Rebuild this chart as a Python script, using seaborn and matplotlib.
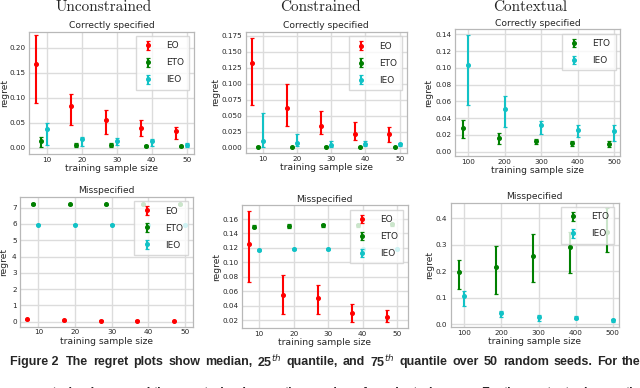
import matplotlib
matplotlib.use("Agg")
import matplotlib.pyplot as plt
import matplotlib.transforms as mtransforms
import seaborn as sns
import numpy as np

# ---------------- data ----------------
sizes_small = [10, 20, 30, 40, 50]
sizes_ctx = [100, 200, 300, 400, 500]

# Unconstrained, correctly specified
unc_cs_eo_med = [0.167, 0.083, 0.055, 0.040, 0.034]
unc_cs_eo_q25 = [0.090, 0.045, 0.027, 0.024, 0.017]
unc_cs_eo_q75 = [0.225, 0.107, 0.075, 0.055, 0.042]
unc_cs_eto_med = [0.014, 0.005, 0.005, 0.003, 0.003]
unc_cs_eto_q25 = [0.002, 0.002, 0.002, 0.002, 0.002]
unc_cs_eto_q75 = [0.022, 0.010, 0.009, 0.005, 0.004]
unc_cs_ieo_med = [0.037, 0.017, 0.014, 0.013, 0.005]
unc_cs_ieo_q25 = [0.005, 0.003, 0.005, 0.004, 0.001]
unc_cs_ieo_q75 = [0.049, 0.022, 0.019, 0.017, 0.009]

# Unconstrained, misspecified
unc_ms_eo_med = [0.14, 0.10, 0.06, 0.06, 0.04]
unc_ms_eo_q25 = [0.10, 0.07, 0.03, 0.03, 0.02]
unc_ms_eo_q75 = [0.18, 0.13, 0.09, 0.09, 0.07]
unc_ms_eto_med = [7.22, 7.21, 7.21, 7.21, 7.21]
unc_ms_eto_q25 = [7.17, 7.17, 7.17, 7.17, 7.17]
unc_ms_eto_q75 = [7.26, 7.25, 7.25, 7.25, 7.25]
unc_ms_ieo_med = [5.96, 5.96, 5.96, 5.96, 5.96]
unc_ms_ieo_q25 = [5.93, 5.93, 5.93, 5.93, 5.93]
unc_ms_ieo_q75 = [5.99, 5.99, 5.99, 5.99, 5.99]

# Constrained, correctly specified
con_cs_eo_med = [0.133, 0.0616, 0.034, 0.021, 0.021]
con_cs_eo_q25 = [0.067, 0.034, 0.022, 0.012, 0.0095]
con_cs_eo_q75 = [0.172, 0.100, 0.058, 0.040, 0.033]
con_cs_eto_med = [0.0015, 0.001, 0.0015, 0.001, 0.001]
con_cs_eto_q25 = [0.001, 0.0005, 0.001, 0.0005, 0.0005]
con_cs_eto_q75 = [0.002, 0.0015, 0.002, 0.0015, 0.0015]
con_cs_ieo_med = [0.0105, 0.007, 0.004, 0.005, 0.005]
con_cs_ieo_q25 = [0.001, 0.0025, 0.001, 0.002, 0.0025]
con_cs_ieo_q75 = [0.054, 0.021, 0.0105, 0.0105, 0.008]

# Constrained, misspecified
con_ms_eo_med = [0.126, 0.0547, 0.0505, 0.0293, 0.0242]
con_ms_eo_q25 = [0.0732, 0.0284, 0.0279, 0.0173, 0.0173]
con_ms_eo_q75 = [0.171, 0.082, 0.0685, 0.0427, 0.0344]
con_ms_eto_med = [0.1494, 0.1505, 0.151, 0.151, 0.1525]
con_ms_eto_q25 = [0.1475, 0.1475, 0.1495, 0.149, 0.150]
con_ms_eto_q75 = [0.151, 0.1535, 0.1525, 0.153, 0.155]
con_ms_ieo_med = [0.117, 0.118, 0.1185, 0.119, 0.119]
con_ms_ieo_q25 = [0.1155, 0.1165, 0.117, 0.1175, 0.1175]
con_ms_ieo_q75 = [0.1185, 0.1195, 0.120, 0.1205, 0.1205]

# Contextual, correctly specified
ctx_cs_eto_med = [0.0286, 0.0163, 0.0131, 0.0099, 0.0091]
ctx_cs_eto_q25 = [0.016, 0.0087, 0.0095, 0.0072, 0.0056]
ctx_cs_eto_q75 = [0.038, 0.0219, 0.0155, 0.0123, 0.0131]
ctx_cs_ieo_med = [0.1034, 0.0509, 0.0318, 0.026, 0.0247]
ctx_cs_ieo_q25 = [0.0553, 0.029, 0.021, 0.017, 0.0123]
ctx_cs_ieo_q75 = [0.1388, 0.0664, 0.037, 0.032, 0.0314]

# Contextual, misspecified
ctx_ms_eto_med = [0.199, 0.215, 0.259, 0.29, 0.35]
ctx_ms_eto_q25 = [0.133, 0.114, 0.161, 0.195, 0.272]
ctx_ms_eto_q75 = [0.243, 0.297, 0.341, 0.35, 0.438]
ctx_ms_ieo_med = [0.107, 0.044, 0.029, 0.025, 0.015]
ctx_ms_ieo_q25 = [0.069, 0.029, 0.014, 0.019, 0.0075]
ctx_ms_ieo_q75 = [0.127, 0.050, 0.035, 0.031, 0.020]

column_titles = ["Unconstrained", "Constrained", "Contextual"]
row_titles = ["Correctly specified", "Misspecified"]
caption_label = "Figure 2"
caption = ("The regret plots show median, 25$^{th}$ quantile, and 75$^{th}$ "
           "quantile over 50 random seeds. For the")
caption2 = ("unconstrained case and the constrained case, the number of products is "
            "$n=5$. For the contextual case, the")

# ---------------- style ----------------
sns.set_theme(style="whitegrid")
plt.rcParams["font.family"] = ["DejaVu Sans"]
plt.rcParams["axes.edgecolor"] = "#b8b8b8"
plt.rcParams["grid.color"] = "#dcdcdc"
plt.rcParams["axes.linewidth"] = 0.9

W, H = 640, 388
fig = plt.figure(figsize=(W / 100, H / 100), dpi=100)

def box(l, r, t, b):
    return [l / W, 1 - b / H, (r - l) / W, (b - t) / H]

COL = {"EO": "#ff0000", "ETO": "#008000", "IEO": "#12c2c6"}
OFF_SMALL = {"EO": -3.0, "ETO": -1.5, "IEO": 0.0}
OFF_CTX = {"ETO": -15.0, "IEO": 0.0}

def panel(rect, title, xs, series, offs, ylim, xlim, yfmt, ylab_x):
    ax = fig.add_axes(rect)
    for name, (med, q25, q75) in series.items():
        med = np.array(med); q25 = np.array(q25); q75 = np.array(q75)
        x = np.array(xs) + offs[name]
        ax.errorbar(x, med, yerr=[med - q25, q75 - med], fmt="o", color=COL[name],
                    ms=2.6, elinewidth=1.5, capsize=1.6, capthick=0.9, label=name)
    ax.set_xlim(*xlim)
    ax.set_ylim(*ylim)
    ax.set_xticks(xs)
    ax.yaxis.set_major_formatter(matplotlib.ticker.FormatStrFormatter(yfmt))
    ax.tick_params(labelsize=5.2, length=0, colors="#262626")
    ax.tick_params(axis="x", pad=2.0)
    ax.tick_params(axis="y", pad=2.4)
    ax.set_xlabel("training sample size", fontsize=6.6, labelpad=1.0)
    ax.set_ylabel("regret", fontsize=6.6)
    tr = mtransforms.blended_transform_factory(fig.transFigure, ax.transAxes)
    ax.yaxis.set_label_coords(ylab_x / W, 0.5, transform=tr)
    ax.set_title(title, fontsize=6.6, pad=2.5)
    ax.legend(loc="upper right", fontsize=6.4, labelspacing=0.9,
              handlelength=1.6, borderpad=0.6, handletextpad=1.2,
              framealpha=0.8, edgecolor="#d0d0d0", fancybox=False)
    return ax

xl_small = (5.0, 52.0)
xl_ctx = (63.5, 515.6)

a = panel(box(29.2, 193.7, 31.7, 154.2), row_titles[0], sizes_small,
          {"EO": (unc_cs_eo_med, unc_cs_eo_q25, unc_cs_eo_q75),
           "ETO": (unc_cs_eto_med, unc_cs_eto_q25, unc_cs_eto_q75),
           "IEO": (unc_cs_ieo_med, unc_cs_ieo_q25, unc_cs_ieo_q75)},
          OFF_SMALL, (-0.013, 0.232), xl_small, "%.2f", 9.5)
a.set_yticks([0.0, 0.05, 0.10, 0.15, 0.20])

a = panel(box(20.0, 192.5, 196.8, 326.6), row_titles[1], sizes_small,
          {"EO": (unc_ms_eo_med, unc_ms_eo_q25, unc_ms_eo_q75),
           "ETO": (unc_ms_eto_med, unc_ms_eto_q25, unc_ms_eto_q75),
           "IEO": (unc_ms_ieo_med, unc_ms_ieo_q25, unc_ms_ieo_q75)},
          OFF_SMALL, (-0.3, 7.67), xl_small, "%d", 8.0)
a.set_yticks(range(0, 8))

a = panel(box(245.6, 406.5, 31.9, 152.8), row_titles[0], sizes_small,
          {"EO": (con_cs_eo_med, con_cs_eo_q25, con_cs_eo_q75),
           "ETO": (con_cs_eto_med, con_cs_eto_q25, con_cs_eto_q75),
           "IEO": (con_cs_ieo_med, con_cs_ieo_q25, con_cs_ieo_q75)},
          OFF_SMALL, (-0.008, 0.181), xl_small, "%.3f", 220.5)
a.set_yticks(np.arange(0, 0.176, 0.025))

a = panel(box(242.0, 407.5, 205.3, 328.3), row_titles[1], sizes_small,
          {"EO": (con_ms_eo_med, con_ms_eo_q25, con_ms_eo_q75),
           "ETO": (con_ms_eto_med, con_ms_eto_q25, con_ms_eto_q75),
           "IEO": (con_ms_ieo_med, con_ms_ieo_q25, con_ms_ieo_q75)},
          OFF_SMALL, (0.0085, 0.179), (5.0, 53.0), "%.2f", 221.5)
a.set_yticks(np.arange(0.02, 0.161, 0.02))

a = panel(box(455.0, 620.0, 29.3, 155.9), row_titles[0], sizes_ctx,
          {"ETO": (ctx_cs_eto_med, ctx_cs_eto_q25, ctx_cs_eto_q75),
           "IEO": (ctx_cs_ieo_med, ctx_cs_ieo_q25, ctx_cs_ieo_q75)},
          OFF_CTX, (-0.005, 0.146), xl_ctx, "%.2f", 433.5)
a.set_yticks(np.arange(0, 0.141, 0.02))

a = panel(box(450.8, 618.5, 202.7, 327.2), row_titles[1], sizes_ctx,
          {"ETO": (ctx_ms_eto_med, ctx_ms_eto_q25, ctx_ms_eto_q75),
           "IEO": (ctx_ms_ieo_med, ctx_ms_ieo_q25, ctx_ms_ieo_q75)},
          OFF_CTX, (-0.011, 0.459), xl_ctx, "%.1f", 434.5)
a.set_yticks(np.arange(0, 0.41, 0.1))

# column titles (Computer Modern look)
for cx, t in zip([104, 320, 530], column_titles):
    fig.text(cx / W, 1 - 7 / H, t, ha="center", va="center",
             fontsize=11, family=["cmr10", "DejaVu Serif"])

# caption: words justified across the line
CAP_FONT = dict(fontsize=9.0, weight="bold", family=["Liberation Sans", "DejaVu Sans"])
fig.text(10 / W, 1 - 362 / H, caption_label, ha="left", va="center", **CAP_FONT)

renderer = fig.canvas.get_renderer()

def justify(text, x0, x1, ypix, va):
    words = text.split(" ")
    widths = []
    for w in words:
        t = fig.text(0, 0, w, **CAP_FONT)
        widths.append(t.get_window_extent(renderer).width)
        t.remove()
    gap = (x1 - x0 - sum(widths)) / (len(words) - 1)
    gap = max(gap, 3.0)
    x = x0
    for w, wd in zip(words, widths):
        fig.text(x / W, 1 - ypix / H, w, ha="left", va=va, **CAP_FONT)
        x += wd + gap

justify(caption, 66, 641, 362, "center")
justify(caption2, 8, 645, 386.6, "top")

fig.savefig("out.png", dpi=100)
